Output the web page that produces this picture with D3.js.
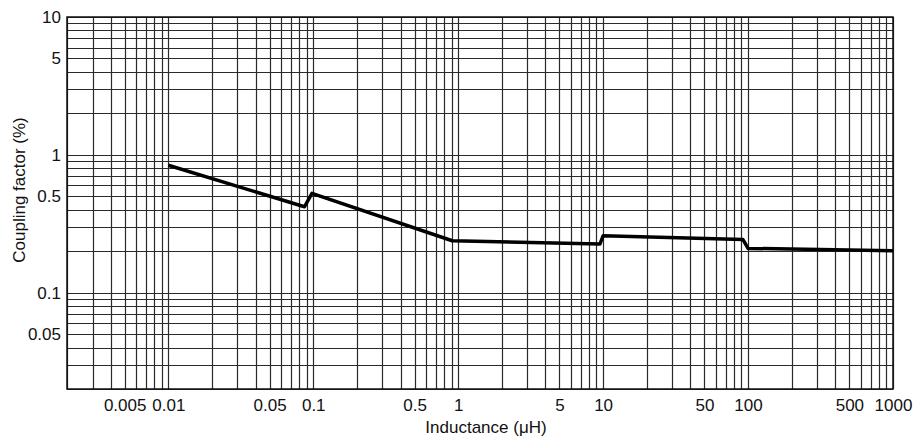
<!DOCTYPE html>
<html>
<head>
<meta charset="utf-8">
<script src="https://cdn.jsdelivr.net/npm/d3@7"></script>
<style>
  body { margin: 0; background: #fff; }
  text { font-family: "Liberation Sans", Arial, sans-serif; fill: #111; }
</style>
</head>
<body>
<svg id="chart" width="913" height="438"></svg>
<script>
// values
var inductance = [0.01, 0.087, 0.098, 0.91, 9.5, 10, 92, 100, 1000];
var coupling = [0.84, 0.42, 0.525, 0.238, 0.225, 0.2585, 0.2434, 0.2095, 0.2012];

var xTickLabels = [0.005, 0.01, 0.05, 0.1, 0.5, 1, 5, 10, 50, 100, 500, 1000];
var yTickLabels = [0.05, 0.1, 0.5, 1, 5, 10];

var xDomain = [0.002, 1000];
var yDomain = [0.02, 10];

var margin = {top: 17, right: 20, bottom: 49, left: 67};
var width = 913 - margin.left - margin.right;
var height = 438 - margin.top - margin.bottom;

var svg = d3.select('#chart');
var g = svg.append('g')
    .attr('transform', 'translate(' + margin.left + ',' + margin.top + ')');

var x = d3.scaleLog().domain(xDomain).range([0, width]);
var y = d3.scaleLog().domain(yDomain).range([height, 0]);

// log graph paper: lines at 1..9 of every decade
g.append('g').attr('class', 'grid-x')
    .selectAll('line')
    .data(x.ticks())
    .enter()
    .append('line')
    .attr('x1', d => Math.round(x(d)) + 0.5)
    .attr('x2', d => Math.round(x(d)) + 0.5)
    .attr('y1', 0)
    .attr('y2', height)
    .attr('stroke', '#2a2a2a')
    .attr('stroke-width', 1.2);

g.append('g').attr('class', 'grid-y')
    .selectAll('line')
    .data(y.ticks())
    .enter()
    .append('line')
    .attr('x1', 0)
    .attr('x2', width)
    .attr('y1', d => Math.round(y(d)) + 0.5)
    .attr('y2', d => Math.round(y(d)) + 0.5)
    .attr('stroke', '#2a2a2a')
    .attr('stroke-width', 1.2);

// frame
g.append('rect')
    .attr('x', 0)
    .attr('y', 0)
    .attr('width', width)
    .attr('height', height)
    .attr('fill', 'none')
    .attr('stroke', '#111')
    .attr('stroke-width', 1.5);

// axes, only used for labels
var xAxis = d3.axisBottom(x)
    .tickValues(xTickLabels)
    .tickFormat(d => String(d))
    .tickSize(0)
    .tickPadding(10);

var yAxis = d3.axisLeft(y)
    .tickValues(yTickLabels)
    .tickFormat(d => String(d))
    .tickSize(0)
    .tickPadding(6);

var gx = g.append('g')
    .attr('transform', 'translate(0,' + height + ')')
    .call(xAxis);
gx.select('.domain').remove();
gx.selectAll('text').attr('font-size', '17px').attr('font-family', '"Liberation Sans", Arial, sans-serif').attr('fill', '#111');

var gy = g.append('g').call(yAxis);
gy.select('.domain').remove();
gy.selectAll('text').attr('font-size', '17px').attr('font-family', '"Liberation Sans", Arial, sans-serif').attr('fill', '#111');

// axis titles
svg.append('text')
    .attr('text-anchor', 'middle')
    .attr('x', 486)
    .attr('y', 433)
    .attr('font-size', '17px')
    .text('Inductance (μH)');

svg.append('text')
    .attr('text-anchor', 'middle')
    .attr('transform', 'translate(25,190) rotate(-90)')
    .attr('font-size', '17px')
    .text('Coupling factor (%)');

// the curve
var line = d3.line()
    .x((d, i) => x(inductance[i]))
    .y(d => y(d));

g.append('path')
    .datum(coupling)
    .attr('d', line)
    .attr('fill', 'none')
    .attr('stroke', '#000')
    .attr('stroke-width', 3.5)
    .attr('stroke-linejoin', 'round')
    .attr('stroke-linecap', 'butt');
</script>
</body>
</html>
